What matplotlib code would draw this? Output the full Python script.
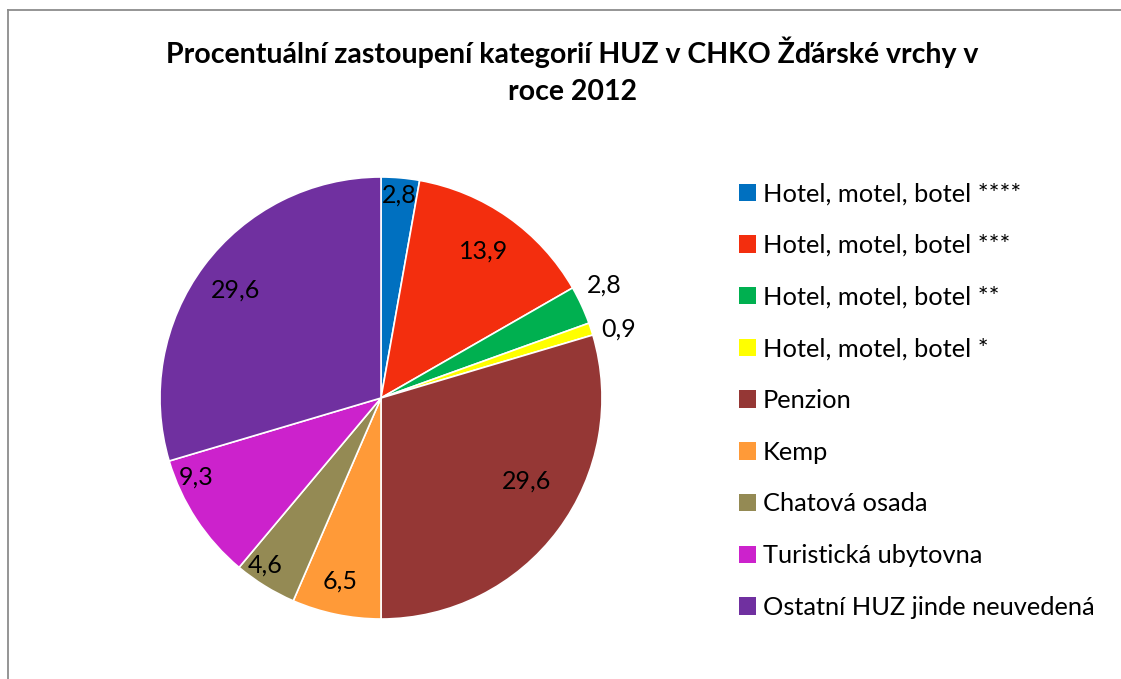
import math
import matplotlib
matplotlib.use("Agg")
import matplotlib.pyplot as plt
from matplotlib.patches import Patch
from matplotlib.lines import Line2D

plt.rcParams['font.family'] = ['Lato', 'DejaVu Sans']

categories = ['Hotel, motel, botel ****', 'Hotel, motel, botel ***',
              'Hotel, motel, botel **', 'Hotel, motel, botel *',
              'Penzion', 'Kemp', 'Chatová osada', 'Turistická ubytovna',
              'Ostatní HUZ jinde neuvedená']
values = [2.8, 13.9, 2.8, 0.9, 29.6, 6.5, 4.6, 9.3, 29.6]
labels = ['2,8', '13,9', '2,8', '0,9', '29,6', '6,5', '4,6', '9,3', '29,6']
colors = ['#0070C0', '#F32E0E', '#00B050', '#FFFF00', '#953735',
          '#FF9A38', '#948A54', '#CC22CC', '#7030A0']

# label placement (radius fraction, angle shift in deg) - tuned by eye
lab_r = [0.92, 0.81, 1.13, 1.12, 0.76, 0.85, 0.92, 0.91, 0.82]
lab_da = [0, 0, 2, -2, 7, -1, -3, -10, 0]

W, H = 1121, 679
fig = plt.figure(figsize=(W / 100, H / 100), dpi=100)
cx, cy, r = 381, 398, 221
ax = fig.add_axes([(cx - r) / W, (H - cy - r) / H, 2 * r / W, 2 * r / H])
wedges, _ = ax.pie(values, colors=colors, startangle=90, counterclock=False,
                   radius=1, wedgeprops=dict(edgecolor='white', linewidth=1.2))
ax.set_xlim(-1, 1)
ax.set_ylim(-1, 1)
ax.set_aspect('equal')
ax.axis('off')

for w, lab, rr, da in zip(wedges, labels, lab_r, lab_da):
    a = math.radians((w.theta1 + w.theta2) / 2 + da)
    ax.text(rr * math.cos(a), rr * math.sin(a), lab, ha='center', va='center',
            fontsize=18, color='black')

fig.text(572 / W, 1 - 52 / H, 'Procentuální zastoupení kategorií HUZ v CHKO Žďárské vrchy v',
         ha='center', va='center', fontsize=20.5, fontweight='bold')
fig.text(572 / W, 1 - 92 / H, 'roce 2012',
         ha='center', va='center', fontsize=20.5, fontweight='bold')

handles = [Patch(facecolor=c, edgecolor='none') for c in colors]
fig.legend(handles, categories, loc='upper left', bbox_to_anchor=(729 / W, 1 - 172 / H),
           frameon=False, fontsize=18.3, handlelength=0.68, handleheight=0.68,
           handletextpad=0.25, labelspacing=1.13, borderaxespad=0)

# chart frame (only left and top edge visible)
fig.add_artist(Line2D([8 / W, 8 / W], [0, 1 - 10 / H], color='#8C8C8C', linewidth=1.3))
fig.add_artist(Line2D([8 / W, 1], [1 - 10 / H, 1 - 10 / H], color='#8C8C8C', linewidth=1.3))

fig.savefig('out.png', dpi=100)
